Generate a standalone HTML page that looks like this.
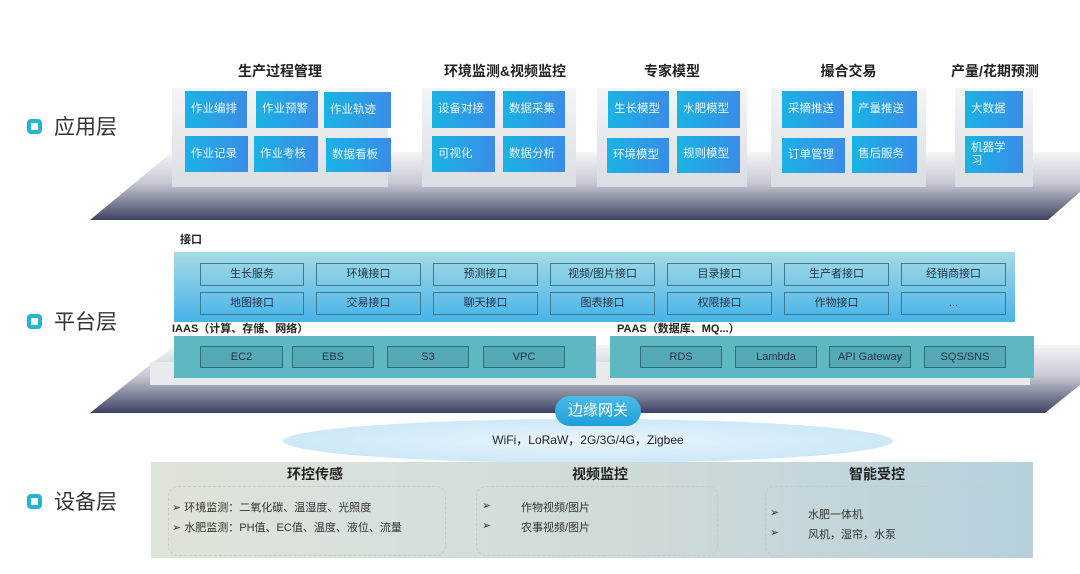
<!DOCTYPE html>
<html><head><meta charset="utf-8"><style>
*{margin:0;padding:0;box-sizing:border-box}
body{width:1080px;height:574px;background:#fff;position:relative;overflow:hidden;font-family:"Liberation Sans","Noto Sans CJK SC",sans-serif}
.a{position:absolute}
.lbl{position:absolute;font-size:21px;color:#333;display:flex;align-items:center}
.lbl i{display:inline-block;width:15px;height:15px;border:4px solid #22b5d4;border-radius:4px;margin-right:12px}
.grp{position:absolute;background:linear-gradient(#f4f5f7,#dcdde3);}
.t{position:absolute;font-weight:bold;font-size:14px;color:#222;text-align:center}
.tile{position:absolute;background:linear-gradient(90deg,#1ab3e4,#3a8ce8);color:#e8f7ff;font-size:11.5px;padding:0 6px;line-height:13px;display:flex;align-items:center}
.b{position:absolute;border:1px solid #3f7a8c;font-size:11px;color:#234;text-align:center;line-height:21px;height:23px}
.c{position:absolute;border:1px solid #2f6e78;font-size:11px;color:#234;text-align:center;line-height:20px;height:22px;background:#55a9b6}
.s{position:absolute;font-size:11px;color:#333}
</style></head><body>
<svg class="a" style="left:0;top:0" width="1080" height="574">
<defs>
<linearGradient id="g1" x1="0" y1="0" x2="0" y2="1"><stop offset="0" stop-color="#f4f5f8"/><stop offset="0.45" stop-color="#c8cad4"/><stop offset="1" stop-color="#3d4263"/></linearGradient>
</defs>
<polygon points="90,220 172,152 1080,152 1080,192 1048,220" fill="url(#g1)"/>
<polygon points="90,413 175,345 1080,345 1080,385 1045,413" fill="url(#g1)"/>
</svg>
<div class="a" style="left:150px;top:362px;width:880px;height:23px;background:#e9eaee"></div>
<div class="lbl" style="left:27px;top:111px"><i></i>应用层</div>
<div class="lbl" style="left:27px;top:306px"><i></i>平台层</div>
<div class="lbl" style="left:27px;top:486px"><i></i>设备层</div>

<div class="grp" style="left:172px;top:88px;width:216px;height:99px"></div>
<div class="grp" style="left:422px;top:88px;width:154px;height:99px"></div>
<div class="grp" style="left:597px;top:88px;width:150px;height:99px"></div>
<div class="grp" style="left:771px;top:88px;width:155px;height:99px"></div>
<div class="grp" style="left:955px;top:88px;width:78px;height:99px"></div>
<div class="t" style="left:172px;top:61px;width:216px">生产过程管理</div>
<div class="t" style="left:410px;top:61px;width:190px">环境监测&amp;视频监控</div>
<div class="t" style="left:597px;top:61px;width:150px">专家模型</div>
<div class="t" style="left:771px;top:61px;width:155px">撮合交易</div>
<div class="t" style="left:940px;top:61px;width:110px">产量/花期预测</div>

<div class="tile" style="left:185px;top:91px;width:62px;height:37px">作业编排</div>
<div class="tile" style="left:256px;top:91px;width:62px;height:37px">作业预警</div>
<div class="tile" style="left:324px;top:92px;width:67px;height:36px">作业轨迹</div>
<div class="tile" style="left:185px;top:136px;width:63px;height:36px">作业记录</div>
<div class="tile" style="left:254px;top:136px;width:64px;height:36px">作业考核</div>
<div class="tile" style="left:326px;top:138px;width:65px;height:34px">数据看板</div>
<div class="tile" style="left:432px;top:91px;width:63px;height:37px">设备对接</div>
<div class="tile" style="left:503px;top:91px;width:62px;height:37px">数据采集</div>
<div class="tile" style="left:432px;top:136px;width:63px;height:36px">可视化</div>
<div class="tile" style="left:503px;top:136px;width:62px;height:36px">数据分析</div>
<div class="tile" style="left:608px;top:91px;width:61px;height:37px">生长模型</div>
<div class="tile" style="left:677px;top:91px;width:63px;height:37px">水肥模型</div>
<div class="tile" style="left:607px;top:138px;width:62px;height:35px">环境模型</div>
<div class="tile" style="left:677px;top:136px;width:63px;height:37px">规则模型</div>
<div class="tile" style="left:782px;top:91px;width:62px;height:37px">采摘推送</div>
<div class="tile" style="left:852px;top:91px;width:65px;height:37px">产量推送</div>
<div class="tile" style="left:782px;top:138px;width:63px;height:35px">订单管理</div>
<div class="tile" style="left:852px;top:136px;width:65px;height:37px">售后服务</div>
<div class="tile" style="left:965px;top:91px;width:58px;height:37px">大数据</div>
<div class="tile" style="left:965px;top:136px;width:58px;height:37px">机器学<br>习</div>

<div class="s" style="left:180px;top:231px;font-weight:bold;color:#222">接口</div>
<div class="a" style="left:174px;top:252px;width:841px;height:70px;background:linear-gradient(#a6dbe4,#46b3ea)"></div>
<div class="b" style="left:200px;top:263px;width:104px">生长服务</div>
<div class="b" style="left:316px;top:263px;width:105px">环境接口</div>
<div class="b" style="left:433px;top:263px;width:105px">预测接口</div>
<div class="b" style="left:550px;top:263px;width:105px">视频/图片接口</div>
<div class="b" style="left:667px;top:263px;width:105px">目录接口</div>
<div class="b" style="left:784px;top:263px;width:105px">生产者接口</div>
<div class="b" style="left:901px;top:263px;width:105px">经销商接口</div>
<div class="b" style="left:200px;top:292px;width:104px">地图接口</div>
<div class="b" style="left:316px;top:292px;width:105px">交易接口</div>
<div class="b" style="left:433px;top:292px;width:105px">聊天接口</div>
<div class="b" style="left:550px;top:292px;width:105px">图表接口</div>
<div class="b" style="left:667px;top:292px;width:105px">权限接口</div>
<div class="b" style="left:784px;top:292px;width:105px">作物接口</div>
<div class="b" style="left:901px;top:292px;width:105px">...</div>

<div class="s" style="left:172px;top:320px;font-weight:bold;color:#222">IAAS（计算、存储、网络）</div>
<div class="s" style="left:617px;top:320px;font-weight:bold;color:#222">PAAS（数据库、MQ...）</div>
<div class="a" style="left:174px;top:336px;width:422px;height:42px;background:#5fb7c2"></div>
<div class="a" style="left:610px;top:336px;width:424px;height:42px;background:#5fb7c2"></div>
<div class="c" style="left:200px;top:346px;width:83px">EC2</div>
<div class="c" style="left:292px;top:346px;width:82px">EBS</div>
<div class="c" style="left:387px;top:346px;width:82px">S3</div>
<div class="c" style="left:483px;top:346px;width:82px">VPC</div>
<div class="c" style="left:640px;top:346px;width:82px">RDS</div>
<div class="c" style="left:735px;top:346px;width:82px">Lambda</div>
<div class="c" style="left:829px;top:346px;width:82px">API Gateway</div>
<div class="c" style="left:924px;top:346px;width:82px">SQS/SNS</div>

<div class="a" style="left:283px;top:419px;width:610px;height:44px;border-radius:50%;background:radial-gradient(ellipse,#e8f5fc,#c2e3f5)"></div>
<div class="a" style="left:283px;top:431px;width:610px;text-align:center;font-size:12px;color:#222">WiFi，LoRaW，2G/3G/4G，Zigbee</div>
<div class="a" style="left:555px;top:396px;width:86px;height:30px;border-radius:15px;background:linear-gradient(#4cbbe9,#1e9fd9);color:#fff;font-size:15px;text-align:center;line-height:30px">边缘网关</div>

<div class="a" style="left:151px;top:462px;width:882px;height:96px;background:linear-gradient(90deg,#dfe5da,#cdd9d9 60%,#b6d1dc)"></div>
<div class="t" style="left:250px;top:464px;width:130px">环控传感</div>
<div class="t" style="left:535px;top:464px;width:130px">视频监控</div>
<div class="t" style="left:812px;top:464px;width:130px">智能受控</div>
<div class="a" style="left:168px;top:486px;width:278px;height:70px;border:1px dashed #c8ccc4;border-radius:10px"></div>
<div class="a" style="left:476px;top:486px;width:242px;height:70px;border:1px dashed #c8ccc4;border-radius:10px"></div>
<div class="a" style="left:765px;top:486px;width:260px;height:70px;border:1px dashed #c0ccd0;border-radius:10px"></div>
<div class="s" style="left:172px;top:499px">➢ 环境监测：二氧化碳、温湿度、光照度</div>
<div class="s" style="left:172px;top:519px">➢ 水肥监测：PH值、EC值、温度、液位、流量</div>
<div class="s" style="left:482px;top:499px">➢</div><div class="s" style="left:521px;top:499px">作物视频/图片</div>
<div class="s" style="left:482px;top:519px">➢</div><div class="s" style="left:521px;top:519px">农事视频/图片</div>
<div class="s" style="left:770px;top:506px">➢</div><div class="s" style="left:808px;top:506px">水肥一体机</div>
<div class="s" style="left:770px;top:526px">➢</div><div class="s" style="left:808px;top:526px">风机，湿帘，水泵</div>
</body></html>
